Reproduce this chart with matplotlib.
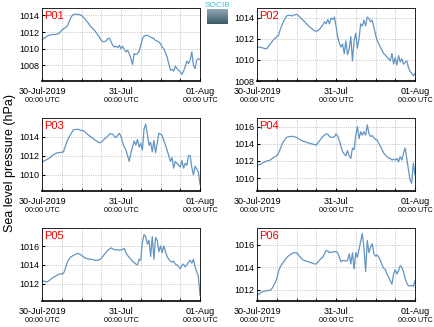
import numpy as np
import matplotlib
matplotlib.use('Agg')
import matplotlib.pyplot as plt

# half-hourly sea level pressure (hPa) from 30-Jul-2019 00:00 to 01-Aug 00:00 UTC
p01 = [1011.1, 1011.2, 1011.35, 1011.5, 1011.6, 1011.65, 1011.7, 1011.7, 1011.7, 1011.75,
       1011.8, 1012.0, 1012.2, 1012.4, 1012.5, 1012.65, 1013.0, 1013.5, 1013.9, 1014.1,
       1014.15, 1014.15, 1014.1, 1014.1, 1014.0, 1013.8, 1013.6, 1013.35, 1013.1, 1012.8,
       1012.6, 1012.4, 1012.2, 1011.9, 1011.65, 1011.35, 1011.0, 1010.85, 1010.85, 1010.95,
       1011.2, 1011.25, 1010.8, 1010.4, 1010.2, 1010.3, 1010.1, 1010.4, 1010.0, 1010.3,
       1009.9, 1009.6, 1009.8, 1009.4, 1008.8, 1008.1, 1009.4, 1009.3, 1009.4, 1009.7,
       1010.4, 1011.2, 1011.5, 1011.6, 1011.6, 1011.5, 1011.4, 1011.3, 1011.2, 1011.0,
       1010.9, 1010.8, 1010.6, 1010.2, 1010.0, 1009.5, 1009.0, 1008.2, 1007.4, 1007.5,
       1007.3, 1007.9, 1007.6, 1007.4, 1007.2, 1006.9, 1007.3, 1007.8, 1008.5, 1008.2,
       1008.6, 1009.6, 1008.0, 1007.6, 1008.6, 1008.8, 1008.7]
p02 = [1011.2, 1011.2, 1011.2, 1011.15, 1011.1, 1011.05, 1011.05, 1011.3, 1011.5, 1011.7,
       1011.9, 1012.05, 1012.15, 1012.3, 1012.8, 1013.2, 1013.6, 1013.9, 1014.15, 1014.2,
       1014.2, 1014.15, 1014.2, 1014.25, 1014.3, 1014.2, 1014.05, 1013.9, 1013.75, 1013.6,
       1013.4, 1013.25, 1013.1, 1013.0, 1012.85, 1012.75, 1012.7, 1012.75, 1012.9, 1013.1,
       1013.3, 1013.6, 1013.4, 1013.8, 1013.4, 1013.95, 1013.8, 1014.05, 1013.2, 1012.2,
       1011.6, 1011.2, 1011.5, 1010.6, 1011.8, 1010.5, 1011.0, 1012.2, 1009.9, 1011.8,
       1012.5, 1011.1, 1012.0, 1013.4, 1013.2, 1013.75, 1013.2, 1014.05, 1013.9, 1013.6,
       1013.75, 1013.1, 1012.4, 1011.85, 1011.5, 1011.2, 1010.9, 1010.6, 1010.45, 1010.25,
       1010.1, 1009.9, 1010.6, 1009.6, 1010.2, 1009.5, 1010.4, 1009.8, 1010.1, 1009.6,
       1009.75, 1009.9, 1009.3, 1008.9, 1008.75, 1008.5, 1008.7]
p03 = [1011.4, 1011.4, 1011.5, 1011.6, 1011.7, 1011.8, 1012.0, 1012.1, 1012.2, 1012.3,
       1012.3, 1012.35, 1012.35, 1012.4, 1012.9, 1013.4, 1013.8, 1014.1, 1014.4, 1014.7,
       1014.75, 1014.75, 1014.75, 1014.7, 1014.65, 1014.6, 1014.5, 1014.35, 1014.2, 1014.05,
       1013.95, 1013.8, 1013.65, 1013.55, 1013.45, 1013.35, 1013.4, 1013.6, 1013.75, 1013.9,
       1014.05, 1014.25, 1014.3, 1014.25, 1014.0, 1013.9, 1014.15, 1014.35, 1014.0, 1013.4,
       1012.9, 1012.6, 1012.0, 1011.4, 1012.3, 1012.9, 1013.55, 1013.1, 1013.7, 1012.9,
       1013.3, 1012.6, 1014.8, 1015.3, 1014.3, 1013.1, 1013.4, 1012.4, 1013.6, 1012.3,
       1013.3, 1014.35, 1014.25, 1014.1, 1013.6, 1013.1, 1012.6, 1012.0, 1011.4, 1011.8,
       1010.7, 1011.4, 1011.2, 1011.0, 1010.8, 1011.5, 1010.7, 1011.2, 1011.0, 1012.0,
       1012.0, 1010.8, 1010.0, 1010.9, 1010.6, 1010.3, 1009.0]
p04 = [1011.55, 1011.55, 1011.6, 1011.7, 1011.85, 1011.9, 1012.0, 1012.05, 1012.1, 1012.25,
       1012.4, 1012.5, 1012.6, 1012.9, 1013.35, 1013.8, 1014.25, 1014.5, 1014.75, 1014.8,
       1014.85, 1014.85, 1014.85, 1014.8, 1014.75, 1014.6, 1014.5, 1014.4, 1014.3, 1014.25,
       1014.2, 1014.1, 1014.05, 1014.0, 1013.95, 1013.9, 1013.85, 1014.1, 1014.35, 1014.6,
       1014.85, 1015.0, 1015.15, 1015.1, 1014.85, 1014.75, 1014.75, 1014.8, 1015.15, 1014.9,
       1014.4, 1013.7, 1013.1, 1012.8, 1012.6, 1013.2, 1012.6, 1012.3, 1013.5, 1013.3,
       1015.0, 1016.0, 1014.6, 1015.4, 1015.0, 1015.4, 1015.0, 1016.2, 1015.2, 1014.85,
       1014.95, 1014.7, 1014.5, 1014.45, 1014.0, 1013.7, 1013.3, 1012.9, 1012.7, 1012.5,
       1012.3, 1012.3, 1012.1, 1012.2, 1012.1, 1012.3, 1011.9, 1012.5, 1012.1, 1012.9,
       1013.5, 1012.3, 1011.0, 1009.8, 1009.4, 1011.75, 1010.4]
p05 = [1012.35, 1012.3, 1012.25, 1012.2, 1012.3, 1012.45, 1012.6, 1012.7, 1012.8, 1012.9,
       1013.0, 1013.05, 1013.05, 1013.1, 1013.5, 1014.1, 1014.5, 1014.75, 1014.9, 1015.0,
       1015.1, 1015.2, 1015.2, 1015.15, 1015.0, 1014.9, 1014.75, 1014.7, 1014.65, 1014.6,
       1014.6, 1014.55, 1014.5, 1014.5, 1014.5, 1014.55, 1014.7, 1014.9, 1015.15, 1015.35,
       1015.55, 1015.7, 1015.8, 1015.7, 1015.6, 1015.6, 1015.6, 1015.55, 1015.6, 1015.65,
       1015.75, 1015.3, 1015.0, 1014.8, 1014.6, 1014.4, 1014.25, 1014.1, 1014.0, 1014.6,
       1014.5, 1016.4, 1017.2, 1017.0, 1016.2, 1016.6, 1014.9, 1017.0, 1014.6, 1016.9,
       1016.6, 1015.4, 1016.0, 1015.3, 1016.0, 1015.4, 1014.9, 1014.6, 1014.4, 1014.3,
       1014.4, 1014.1, 1014.0, 1013.8, 1013.6, 1013.95, 1014.1, 1013.8, 1014.0, 1014.3,
       1014.5, 1014.2, 1014.6, 1013.8, 1013.3, 1012.8, 1010.8]
p06 = [1011.55, 1011.6, 1011.7, 1011.8, 1011.85, 1011.9, 1011.9, 1011.95, 1011.95, 1012.1,
       1012.35, 1012.65, 1012.95, 1013.6, 1014.0, 1014.25, 1014.45, 1014.65, 1014.85, 1015.0,
       1015.1, 1015.2, 1015.3, 1015.3, 1015.3, 1015.15, 1014.95, 1014.8, 1014.65, 1014.6,
       1014.55, 1014.5, 1014.45, 1014.4, 1014.35, 1014.3, 1014.3, 1014.45, 1014.65, 1014.8,
       1014.9, 1015.2, 1015.5, 1015.45, 1015.3, 1015.35, 1015.35, 1015.4, 1015.4, 1015.3,
       1014.9, 1014.5, 1014.6, 1014.6, 1014.55, 1014.6, 1015.2, 1014.3, 1015.3, 1013.85,
       1015.3, 1014.9, 1015.6, 1016.3, 1017.0, 1015.7, 1013.6, 1016.4, 1015.3, 1015.8,
       1016.1, 1015.2, 1015.0, 1015.1, 1014.9, 1014.6, 1014.2, 1013.9, 1013.8, 1013.4,
       1013.1, 1012.8, 1012.5, 1013.4, 1013.8, 1013.4, 1013.7, 1014.15, 1014.0, 1013.6,
       1013.0, 1012.6, 1012.35, 1012.35, 1012.4, 1012.3, 1012.8]

stations = ['P01', 'P02', 'P03', 'P04', 'P05', 'P06']
series = [p01, p02, p03, p04, p05, p06]
ylims = [(1006.1, 1014.9), (1008.0, 1014.9), (1008.3, 1015.95),
         (1008.5, 1017.0), (1010.2, 1017.9), (1011.0, 1017.5)]
tick_labels = ['30-Jul-2019', '31-Jul', '01-Aug']

plt.rcParams['font.family'] = ['Liberation Sans', 'DejaVu Sans']

fig = plt.figure(figsize=(4.34, 3.27), dpi=100)
W, H = 434, 327
lefts = [42, 257]
tops = [8, 118, 228]
aw, ah = 158, 73

for i, (name, vals) in enumerate(zip(stations, series)):
    r, c = divmod(i, 2)
    ax = fig.add_axes([lefts[c] / W, 1 - (tops[r] + ah) / H, aw / W, ah / H])
    hours = np.arange(len(vals)) * 0.5
    ax.plot(hours, vals, color='#6394c2', lw=0.9)
    ax.set_xlim(0, 48)
    ax.set_ylim(*ylims[i])
    ax.set_xticks([0, 24, 48])
    ax.set_xticks(np.arange(0, 49, 6), minor=True)
    ax.set_xticklabels(tick_labels)
    yt = np.arange(1006, 1020, 2)
    ax.set_yticks(yt[(yt >= ylims[i][0]) & (yt <= ylims[i][1])])
    ax.tick_params(axis='y', labelsize=6.5, direction='in', length=2, pad=2)
    ax.tick_params(axis='x', labelsize=6.5, direction='in', length=2, pad=4)
    ax.tick_params(which='minor', direction='in', length=2)
    ax.grid(True, which='both', axis='x', linestyle=':', color='#b0b0b0', lw=0.6)
    ax.grid(True, axis='y', linestyle=':', color='#b0b0b0', lw=0.6)
    for s in ax.spines.values():
        s.set_linewidth(0.6)
    ax.spines['bottom'].set_linewidth(1.2)
    ax.text(0.015, 0.96, name, transform=ax.transAxes, color='red', fontsize=8,
            va='top', ha='left')
    for x in [0, 24, 48]:
        ax.text(x, -0.22, '00:00 UTC', transform=ax.get_xaxis_transform(),
                fontsize=5.2, ha='center', va='top')

fig.text(10 / W, 0.5, 'Sea level pressure (hPa)', rotation=90, fontsize=9,
         ha='center', va='center')

# SOCIB logo
lax = fig.add_axes([207 / W, 1 - 24 / H, 21 / W, 15 / H])
grad = np.linspace(0, 1, 50).reshape(-1, 1)
lax.imshow(grad, aspect='auto', cmap=matplotlib.colors.LinearSegmentedColormap.from_list(
    'l', ['#8fa8b4', '#3e5a6a']))
lax.axis('off')
fig.text(217.5 / W, 1 - 5.5 / H, 'SOCIB', color='#3cc4d6', fontsize=6,
         ha='center', va='center')

fig.savefig('out.png', dpi=100)
